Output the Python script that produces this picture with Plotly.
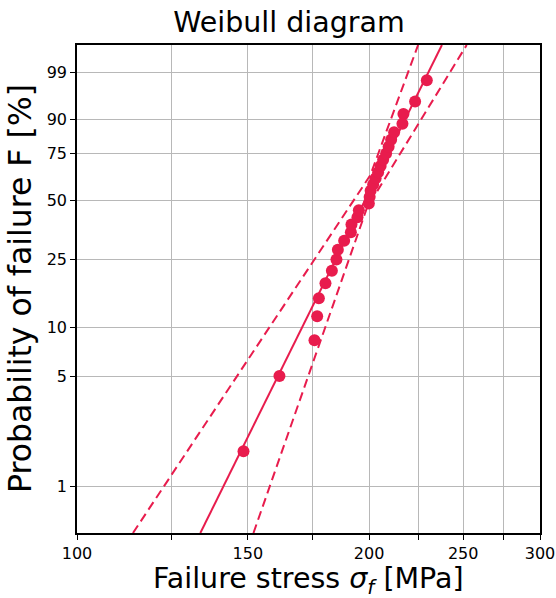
import numpy as np
import plotly.graph_objects as go

# ---- data ----
stress = [148.45, 161.67, 175.68, 176.81, 177.52, 180.32, 183.08, 185.08, 185.70, 188.50,
          191.52, 191.79, 194.54, 195.18, 199.87, 200.25, 200.72, 201.92, 203.12, 204.32,
          205.54, 206.76, 208.24, 209.48, 210.72, 212.23, 216.45, 216.96, 223.06, 229.34]
prob_pct = [1.67, 5.00, 8.33, 11.67, 15.00, 18.33, 21.67, 25.00, 28.33, 31.67,
            35.00, 38.33, 41.67, 45.00, 48.33, 51.67, 55.00, 58.33, 61.67, 65.00,
            68.33, 71.67, 75.00, 78.33, 81.67, 85.00, 88.33, 91.67, 95.00, 98.33]

fit_stress = [134.0, 237.7]
fit_pct = [0.5, 99.9]

band_low_stress = [114.2, 200.6, 224.65]
band_low_pct = [0.5, 63.4, 99.9]
band_high_stress = [152.0, 198.96, 252.1]
band_high_pct = [0.5, 46.1, 99.9]

y_tick_pct = [1, 5, 10, 25, 50, 75, 90, 99]
y_tick_text = ["1", "5", "10", "25", "50", "75", "90", "99"]
x_tick_vals = [100, 125, 150, 175, 200, 225, 250, 275, 300]
x_tick_text = ["100", " ", "150", " ", "200", " ", "250", " ", "300"]
y_range_pct = [0.5, 99.9]
x_range = [100, 300]

COLOR = "#E81C4D"
FONT = "DejaVu Sans"


def weib(p):
    p = np.asarray(p, dtype=float) / 100.0
    return np.log(-np.log(1.0 - p))


fig = go.Figure()
fig.add_trace(go.Scatter(x=band_low_stress, y=weib(band_low_pct), mode="lines",
                         line=dict(color=COLOR, width=2, dash="9px,5px"), showlegend=False))
fig.add_trace(go.Scatter(x=band_high_stress, y=weib(band_high_pct), mode="lines",
                         line=dict(color=COLOR, width=2, dash="9px,5px"), showlegend=False))
fig.add_trace(go.Scatter(x=fit_stress, y=weib(fit_pct), mode="lines",
                         line=dict(color=COLOR, width=2), showlegend=False))
fig.add_trace(go.Scatter(x=stress, y=weib(prob_pct), mode="markers",
                         marker=dict(color=COLOR, size=12), showlegend=False))

fig.update_layout(
    width=556, height=598,
    margin=dict(l=77, r=16, t=45, b=65, autoexpand=False),
    paper_bgcolor="white", plot_bgcolor="white",
    font=dict(family=FONT, color="black"),
    title=dict(text="Weibull diagram", x=289 / 556, xref="container", xanchor="center",
               y=1 - 22 / 598, yref="container", yanchor="middle",
               font=dict(family=FONT, size=28.5, color="black")),
    annotations=[
        dict(text="Failure stress <i>σ</i><sub><i>f</i></sub> [MPa]", xref="paper", yref="paper",
             x=0.5, y=-0.097, xanchor="center", yanchor="middle", showarrow=False,
             font=dict(size=28.5, family=FONT, color="black")),
        dict(text="Probability of failure F [%]", xref="paper", yref="paper",
             x=-0.123, y=0.5, xanchor="center", yanchor="middle", textangle=-90,
             showarrow=False, font=dict(size=31.5, family=FONT, color="black")),
    ],
)
fig.update_xaxes(
    type="log", range=[np.log10(x_range[0]), np.log10(x_range[1])],
    tickmode="array", tickvals=x_tick_vals, ticktext=x_tick_text,
    ticks="outside", ticklen=5, tickwidth=1.2, tickcolor="black",
    tickfont=dict(size=16, family=FONT),
    showgrid=True, gridcolor="#b8b8b8", gridwidth=1.3,
    showline=True, linecolor="black", linewidth=1.5, mirror=True,
    zeroline=False, automargin=False,
)
fig.update_yaxes(
    range=list(weib(y_range_pct)),
    tickmode="array", tickvals=list(weib(y_tick_pct)), ticktext=y_tick_text,
    ticks="outside", ticklen=5, tickwidth=1.2, tickcolor="black",
    tickfont=dict(size=16, family=FONT),
    showgrid=True, gridcolor="#b8b8b8", gridwidth=1.3,
    showline=True, linecolor="black", linewidth=1.5, mirror=True,
    zeroline=False, automargin=False,
)

fig.write_html("out.html", config={"displayModeBar": False})
